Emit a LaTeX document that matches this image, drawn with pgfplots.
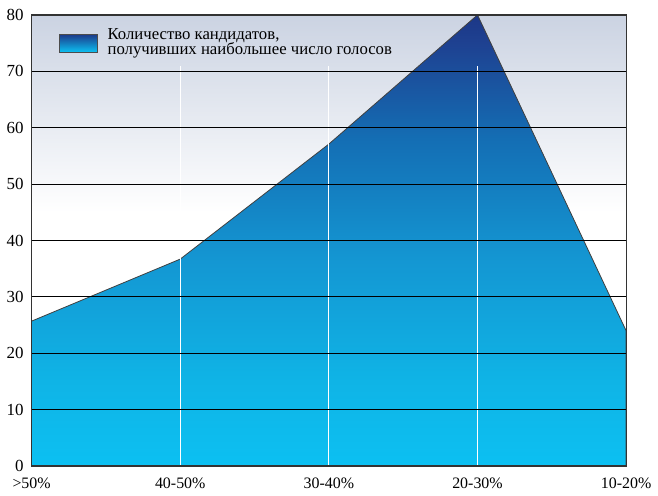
\documentclass[border=0pt]{standalone}
\usepackage{fontspec}
\setmainfont{Liberation Serif}
\usepackage{pgfplots}
\pgfplotsset{compat=1.18}
\definecolor{c0}{RGB}{12,192,242}
\definecolor{c15}{RGB}{15,180,230}
\definecolor{c37}{RGB}{20,150,210}
\definecolor{c58}{RGB}{20,110,180}
\definecolor{c75}{RGB}{30,65,145}
\definecolor{c80}{RGB}{28,55,135}
\definecolor{bgtop}{RGB}{203,211,226}
\pgfdeclareverticalshading{areagrad}{100bp}{color(0bp)=(c0); color(25bp)=(c0); color(34.4bp)=(c15); color(48.1bp)=(c37); color(61.25bp)=(c58); color(71.9bp)=(c75); color(75bp)=(c80); color(100bp)=(c80)}
\begin{document}
\begin{tikzpicture}
\begin{axis}[
  scale only axis, width=298.5pt, height=226.5pt,
  xmin=0, xmax=4, ymin=0, ymax=80,
  xtick={0,1,2,3,4},
  xticklabels={>50\%, 40-50\%, 30-40\%, 20-30\%, 10-20\%},
  ytick={0,10,...,80},
  ymajorgrids, major grid style={black, line width=0.5pt},
  tick style={draw=none},
  axis line style={black!80, line width=0.6pt},
  axis on top,
  /pgf/number format/assume math mode=true,
  yticklabel style={font=\fontsize{8.5}{10}\selectfont, xshift=-0.5pt},
  xticklabel style={font=\fontsize{8}{10}\selectfont, yshift=-2.5pt},
  legend style={at={(axis description cs:0.042,0.985)}, anchor=north west,
    draw=none, fill=none, font=\fontsize{8.4}{8}\selectfont,
    cells={anchor=west, align=left}, inner sep=1pt},
  legend image code/.code={\draw[draw=black!70, line width=0.4pt, top color=c80, bottom color=c0] (0pt,-4.5pt) rectangle (19pt,4.5pt); \path (22pt,0pt);},
]
\fill[top color=bgtop, bottom color=white] (axis cs:0,45) rectangle (axis cs:4,80);
\addplot[draw=black!75, line width=0.4pt, shading=areagrad]
  coordinates {(0,25.7) (1,36.7) (2,57.1) (3,80) (4,24)} \closedcycle;
\addlegendentry{Количество кандидатов,\\получивших наибольшее число голосов}
\draw[white, line width=0.6pt] (axis cs:1,0) -- (axis cs:1,71);
\draw[white, line width=0.6pt] (axis cs:2,0) -- (axis cs:2,71);
\draw[white, line width=0.6pt] (axis cs:3,0) -- (axis cs:3,71);
\end{axis}
\path (current axis.north west) ++(0,7.5pt);
\end{tikzpicture}
\end{document}
